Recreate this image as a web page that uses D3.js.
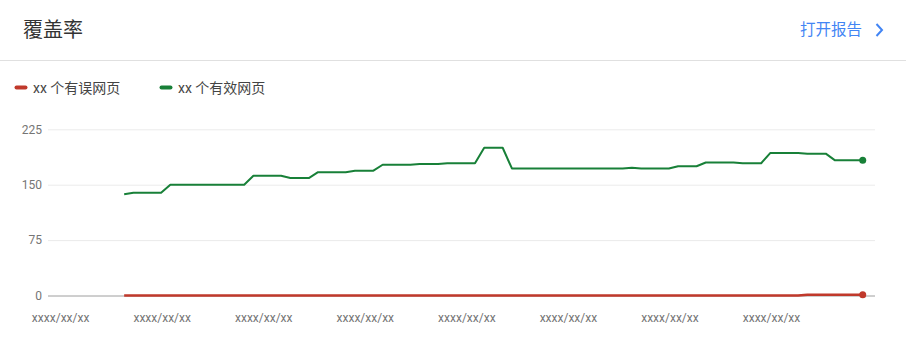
<!DOCTYPE html>
<html>
<head>
<meta charset="utf-8">
<script src="https://cdn.jsdelivr.net/npm/d3@7"></script>
<style>
  html, body { margin: 0; padding: 0; background: #fff; }
  svg { display: block; font-family: Roboto, "Noto Sans CJK SC", sans-serif; }
</style>
</head>
<body>
<svg id="chart" width="906" height="342"></svg>
<script>
// ---- data ----
const title = "覆盖率";
const linkText = "打开报告";
const seriesNames = ["xx 个有误网页", "xx 个有效网页"];
const seriesColors = ["#c0392b", "#188038"];
const dayIndex = d3.range(81);
const errorValues = [
  0,0,0,0,0,0,0,0,0,0, 0,0,0,0,0,0,0,0,0,0,
  0,0,0,0,0,0,0,0,0,0, 0,0,0,0,0,0,0,0,0,0,
  0,0,0,0,0,0,0,0,0,0, 0,0,0,0,0,0,0,0,0,0,
  0,0,0,0,0,0,0,0,0,0, 0,0,0,0,1,1,1,1,1,1,
  1
];
const validValues = [
  137,139,139,139,139,150,150,150,150,150,
  150,150,150,150,162,162,162,162,159,159,
  159,167,167,167,167,169,169,169,177,177,
  177,177,178,178,178,179,179,179,179,200,
  200,200,172,172,172,172,172,172,172,172,
  172,172,172,172,172,173,172,172,172,172,
  175,175,175,180,180,180,180,179,179,179,
  193,193,193,193,192,192,192,183,183,183,
  183
];
const yTicks = [0, 75, 150, 225];
const xTickIdx = [-7, 4, 15, 26, 37, 48, 59, 70];
const xTickLabels = ["xxxx/xx/xx","xxxx/xx/xx","xxxx/xx/xx","xxxx/xx/xx","xxxx/xx/xx","xxxx/xx/xx","xxxx/xx/xx","xxxx/xx/xx"];

// ---- layout ----
const svg = d3.select("#chart");
const plotL = 48, plotR = 875, plotTop = 129.3, plotBottom = 295.5;

const x = d3.scaleLinear().domain([-8.25, 81.33]).range([plotL, plotR]);
const y = d3.scaleLinear().domain([0, 225]).range([plotBottom, plotTop]);

// header
svg.append("text").attr("x", 23).attr("y", 37)
  .attr("font-family", "'Noto Sans CJK SC', sans-serif")
  .attr("font-size", 20).attr("fill", "#333").text(title);
svg.append("text").attr("x", 800).attr("y", 35)
  .attr("font-family", "'Noto Sans CJK SC', sans-serif")
  .attr("font-size", 15.5).attr("fill", "#4285f4").text(linkText);
svg.append("path").attr("d", "M876.5,24 L882,30 L876.5,36")
  .attr("fill", "none").attr("stroke", "#4285f4").attr("stroke-width", 2);
svg.append("line").attr("x1", 0).attr("x2", 906).attr("y1", 60.5).attr("y2", 60.5)
  .attr("stroke", "#e0e0e0").attr("stroke-width", 1);

// legend
const legendX = [15, 160];
seriesNames.forEach((name, i) => {
  const g = svg.append("g").attr("transform", `translate(${legendX[i]},87.5)`);
  g.append("line").attr("x1", 1.5).attr("x2", 10.5).attr("y1", 0).attr("y2", 0)
    .attr("stroke", seriesColors[i]).attr("stroke-width", 4).attr("stroke-linecap", "round");
  g.append("text").attr("x", 18).attr("y", 5)
    .attr("font-size", 14).attr("fill", "#444").text(name);
});

// grid + y axis labels
const yAxis = d3.axisLeft(y).tickValues(yTicks).tickSize(-(plotR - plotL)).tickPadding(6);
const gy = svg.append("g").attr("transform", `translate(${plotL},0)`).call(yAxis);
gy.select(".domain").remove();
gy.selectAll(".tick line").attr("stroke", d => d === 0 ? "#9e9e9e" : "#ebebeb").attr("stroke-width", 1);
gy.selectAll(".tick text").attr("fill", "#757575").attr("font-size", 12)
  .attr("font-family", "Roboto, sans-serif");

// x axis labels
const xAxis = d3.axisBottom(x).tickValues(xTickIdx).tickSize(0).tickPadding(0)
  .tickFormat((d, i) => xTickLabels[i]);
const gx = svg.append("g").attr("transform", `translate(0.6,${plotBottom})`).call(xAxis);
gx.select(".domain").remove();
gx.selectAll(".tick text").attr("fill", "#757575").attr("font-size", 12)
  .attr("font-family", "Roboto, sans-serif").attr("dy", null).attr("y", 26);

// lines
const allSeries = [errorValues, validValues];
const line = d3.line().x((d, i) => x(dayIndex[i])).y(d => y(d));
[1, 0].forEach(k => {
  svg.append("path").datum(allSeries[k])
    .attr("fill", "none").attr("stroke", seriesColors[k])
    .attr("stroke-width", k === 0 ? 2.5 : 2).attr("stroke-linejoin", "round")
    .attr("d", line);
  const last = allSeries[k].length - 1;
  svg.append("circle").attr("cx", x(dayIndex[last])).attr("cy", y(allSeries[k][last]))
    .attr("r", 3.5).attr("fill", seriesColors[k]);
});
</script>
</body>
</html>
